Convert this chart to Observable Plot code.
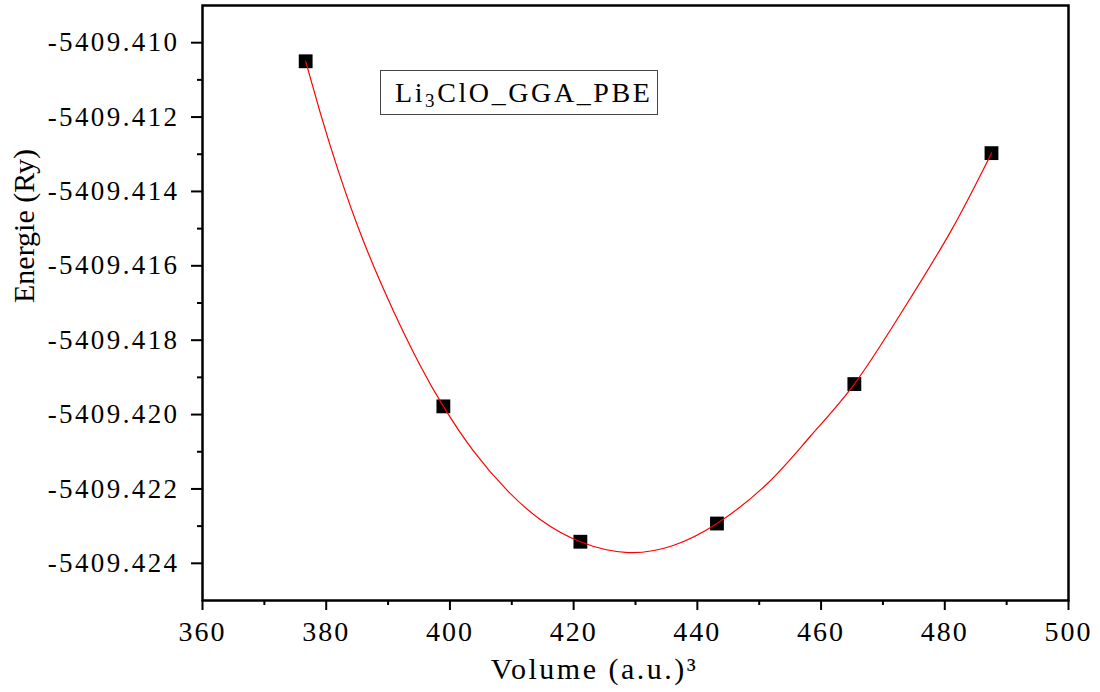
<!DOCTYPE html>
<html><head><meta charset="utf-8">
<script src="https://cdn.jsdelivr.net/npm/d3@7"></script>
<script src="https://cdn.jsdelivr.net/npm/@observablehq/plot@0.6"></script>
<style>
body{margin:0;background:#fff;}
#wrap{position:relative;width:1100px;height:692px;}
#wrap svg, #wrap svg text{font-family:"Liberation Serif","Times New Roman",serif !important;}
#legend{position:absolute;left:380px;top:70px;width:278px;height:45px;box-sizing:border-box;border:1px solid #444;
 font-family:"Liberation Serif","Times New Roman",serif;font-size:28px;line-height:43px;padding-left:14px;color:#000;letter-spacing:2.6px;white-space:nowrap;}
#legend sub{font-size:0.68em;vertical-align:-0.28em;line-height:0;}
g[aria-label="y-axis tick label"] text{letter-spacing:2.4px;}
g[aria-label="x-axis tick label"] text{letter-spacing:2px;}
</style>
</head><body>
<div id="wrap"><div id="legend">Li<sub>3</sub>ClO_GGA_PBE</div></div>
<script>
// Data points (volume in a.u.^3, energy in Ry)
const volume = [376.68, 398.94, 421.09, 443.17, 465.38, 487.55];
const energy = [-5409.41050, -5409.41978, -5409.42342, -5409.42293, -5409.41918, -5409.41297];

// Fitted curve, sampled by reading the red line off the picture
const fitVolume = [376.68, 379.03, 381.94, 385.98, 390.83, 395.19, 398.94, 403.76, 409.26, 414.59, 421.09, 428.82, 436.09, 443.17, 451.29, 458.24, 465.38, 472.79, 480.87, 487.55];
const fitEnergy = [-5409.41050, -5409.41188, -5409.41344, -5409.41532, -5409.41720, -5409.41868, -5409.41978, -5409.42097, -5409.42204, -5409.42282, -5409.42342, -5409.42371, -5409.42352, -5409.42293, -5409.42186, -5409.42059, -5409.41918, -5409.41731, -5409.41510, -5409.41297];

// Ticks
const xTicks = [360, 380, 400, 420, 440, 460, 480, 500];
const xMinor = [370, 390, 410, 430, 450, 470, 490];
const yTicks = [-5409.424, -5409.422, -5409.420, -5409.418, -5409.416, -5409.414, -5409.412, -5409.410];
const yMinor = [-5409.423, -5409.421, -5409.419, -5409.417, -5409.415, -5409.413, -5409.411];

const xLabel = "Volume (a.u.)³";
const yLabel = "Energie (Ry)";

const points = volume.map((v, i) => ({v, e: energy[i]}));
const fit = fitVolume.map((v, i) => ({v, e: fitEnergy[i]}));
const serif = '"Liberation Serif", "Times New Roman", serif';

const chart = Plot.plot({
  width: 1100, height: 692,
  marginLeft: 202, marginRight: 32, marginTop: 5, marginBottom: 92,
  style: {fontFamily: serif, background: "white", color: "black"},
  x: {domain: [360, 500]},
  y: {domain: [-5409.425, -5409.409]},
  marks: [
    Plot.axisX(xMinor, {tickSize: 5, strokeWidth: 2, tickFormat: () => "", label: null}),
    Plot.axisX(xTicks, {tickSize: 10, tickPadding: 11, strokeWidth: 2, fontSize: 28, label: null}),
    Plot.axisY(yMinor, {tickSize: 5, strokeWidth: 2, tickFormat: () => "", label: null}),
    Plot.axisY(yTicks, {tickSize: 11, tickPadding: 12, strokeWidth: 2, fontSize: 27, tickFormat: d => d.toFixed(3), label: null}),
    Plot.frame({stroke: "black", strokeWidth: 2.5}),
    Plot.dot(points, {x: "v", y: "e", symbol: "square", r: 7.8, fill: "black"}),
    Plot.line(fit, {x: "v", y: "e", stroke: "red", strokeWidth: 1.2, curve: "natural"}),
    Plot.text([xLabel], {frameAnchor: "bottom", text: d => d, fontSize: 30, fontFamily: serif, dx: -41, dy: 78, lineAnchor: "bottom"}),
    Plot.text([yLabel], {frameAnchor: "left", text: d => d, fontSize: 30, fontFamily: serif, rotate: -90, dx: -169, lineAnchor: "bottom"})
  ]
});
document.getElementById("wrap").prepend(chart);
d3.select(chart).selectAll("text").filter(function(){return this.textContent === xLabel;}).style("letter-spacing", "2.5px");
</script>
</body></html>
